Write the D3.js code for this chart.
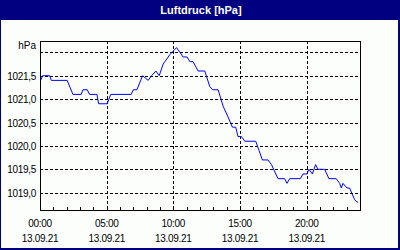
<!DOCTYPE html>
<html>
<head>
<meta charset="utf-8">
<script src="https://cdnjs.cloudflare.com/ajax/libs/d3/7.8.5/d3.min.js"></script>
<style>
  body { margin: 0; background: #fbfefb; }
  svg { display: block; }
  text { font-family: "Liberation Sans", Arial, sans-serif; }
</style>
</head>
<body>
<svg></svg>
<script>
// hours since 00:00 on 13.09.21
var hours = [0.05, 0.2, 0.73, 0.85, 2.04, 2.47, 3.09, 3.22, 3.54, 3.72, 4.27, 4.4, 5.04, 5.3,
  6.84, 7.0, 7.27, 7.69, 8.11, 8.37, 8.69, 8.94, 9.24, 9.74, 10.24, 10.49, 10.73, 11.03,
  11.24, 11.48, 11.86, 12.36, 12.73, 12.94, 13.36, 13.73, 14.1, 14.43, 14.68, 14.85, 15.11,
  15.36, 16.18, 16.43, 16.68, 17.1, 17.36, 17.85, 18.35, 18.52, 18.73, 19.53, 19.72, 20.02,
  20.17, 20.43, 20.67, 20.85, 21.35, 21.67, 22.22, 22.47, 22.6, 22.72, 23.02, 23.22, 23.6,
  23.77, 23.85];
var pressure = [1021.4, 1021.5, 1021.5, 1021.4, 1021.4, 1021.1, 1021.1, 1021.2, 1021.2, 1021.1,
  1021.1, 1020.9, 1020.9, 1021.1, 1021.1, 1021.2, 1021.2, 1021.5, 1021.4, 1021.5, 1021.6,
  1021.5, 1021.75, 1021.95, 1022.1, 1022.0, 1021.9, 1021.9, 1021.8, 1021.8, 1021.6, 1021.6,
  1021.27, 1021.2, 1021.2, 1020.85, 1020.62, 1020.4, 1020.4, 1020.2, 1020.2, 1020.1, 1020.1,
  1019.9, 1019.7, 1019.7, 1019.6, 1019.3, 1019.3, 1019.2, 1019.3, 1019.3, 1019.4, 1019.4,
  1019.5, 1019.4, 1019.6, 1019.5, 1019.5, 1019.3, 1019.3, 1019.2, 1019.1, 1019.2, 1019.1,
  1019.1, 1018.85, 1018.8, 1018.8];

var yTicks = [1019.0, 1019.5, 1020.0, 1020.5, 1021.0, 1021.5, 1022.0];
var yLabels = ["1019,0", "1019,5", "1020,0", "1020,5", "1021,0", "1021,5", ""];
var xTicks = [0, 5, 10, 15, 20];
var xLabels = ["00:00", "05:00", "10:00", "15:00", "20:00"];
var dateLabel = "13.09.21";

var width = 400, height = 250;
var plot = {left: 40, right: 360, top: 41, bottom: 210};

var svg = d3.select('svg')
    .attr('width', width)
    .attr('height', height);

var x = d3.scaleLinear().domain([0, 24]).range([plot.left, plot.right]);
var y = d3.scaleLinear().domain([1019.0, 1022.0]).range([192.7, 52.3]);

// title bar
svg.append('rect')
    .attr('x', 0).attr('y', 0)
    .attr('width', width).attr('height', 20)
    .attr('fill', '#000080');
svg.append('text')
    .attr('x', 201).attr('y', 14)
    .attr('text-anchor', 'middle')
    .attr('fill', 'white')
    .style('font-weight', 'bold')
    .style('font-size', '11px')
    .text('Luftdruck [hPa]');

// frame
svg.append('rect').attr('x', 0).attr('y', 20).attr('width', 1).attr('height', 230).attr('fill', '#000080');
svg.append('rect').attr('x', 398).attr('y', 20).attr('width', 2).attr('height', 230).attr('fill', '#000080');
svg.append('rect').attr('x', 0).attr('y', 248).attr('width', 400).attr('height', 2).attr('fill', '#000080');

// grid
var grid = svg.append('g')
    .attr('stroke', 'black')
    .attr('stroke-dasharray', '3,2')
    .attr('shape-rendering', 'crispEdges');

grid.selectAll('.hgrid')
    .data(yTicks)
    .enter().append('line')
    .attr('x1', plot.left).attr('x2', plot.right)
    .attr('y1', function(d) { return Math.round(y(d)) + 0.5; })
    .attr('y2', function(d) { return Math.round(y(d)) + 0.5; });

grid.selectAll('.vgrid')
    .data(xTicks.slice(1))
    .enter().append('line')
    .attr('y1', plot.top).attr('y2', plot.bottom)
    .attr('x1', function(d) { return Math.round(x(d)) + 0.5; })
    .attr('x2', function(d) { return Math.round(x(d)) + 0.5; });

// y labels
svg.selectAll('.ylab')
    .data(yTicks)
    .enter().append('text')
    .attr('x', 36)
    .attr('y', function(d) { return Math.round(y(d)) + 4; })
    .attr('text-anchor', 'end')
    .style('font-size', '10px')
    .style('letter-spacing', '-0.3px')
    .text(function(d, i) { return yLabels[i]; });

svg.append('text')
    .attr('x', 36).attr('y', 49)
    .attr('text-anchor', 'end')
    .style('font-size', '10px')
    .text('hPa');

// hourly ticks pointing up into the plot
svg.selectAll('.tick')
    .data(d3.range(0, 25))
    .enter().append('line')
    .attr('x1', function(d) { return Math.round(x(d)) + 0.5; })
    .attr('x2', function(d) { return Math.round(x(d)) + 0.5; })
    .attr('y1', plot.bottom - 3).attr('y2', plot.bottom)
    .attr('stroke', 'black')
    .attr('shape-rendering', 'crispEdges');

// x labels
var xl = svg.selectAll('.xlab')
    .data(xTicks)
    .enter().append('g')
    .attr('transform', function(d) { return 'translate(' + x(d) + ',0)'; });
xl.append('text')
    .attr('y', 227)
    .attr('text-anchor', 'middle')
    .style('font-size', '10px')
    .style('letter-spacing', '-0.3px')
    .text(function(d, i) { return xLabels[i]; });
xl.append('text')
    .attr('y', 242)
    .attr('text-anchor', 'middle')
    .style('font-size', '10px')
    .style('letter-spacing', '-0.3px')
    .text(dateLabel);

// data line
var line = d3.line()
    .x(function(d, i) { return x(hours[i]); })
    .y(function(d) { return y(d); });

svg.append('path')
    .datum(pressure)
    .attr('d', line)
    .attr('fill', 'none')
    .attr('stroke', '#0000ff')
    .attr('stroke-width', 1);

// plot box
svg.append('rect')
    .attr('x', plot.left + 0.5).attr('y', plot.top + 0.5)
    .attr('width', plot.right - plot.left).attr('height', plot.bottom - plot.top)
    .attr('fill', 'none')
    .attr('stroke', 'black')
    .attr('shape-rendering', 'crispEdges');
</script>
</body>
</html>
